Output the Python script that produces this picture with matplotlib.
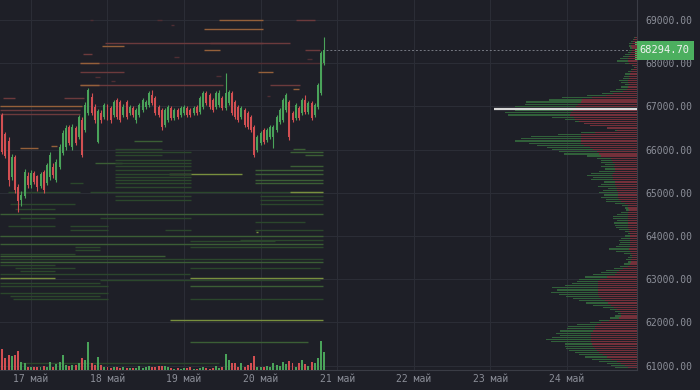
import matplotlib
matplotlib.use("Agg")
import matplotlib.pyplot as plt
import numpy as np

# hourly candles, hour 0 = 17 May 00:00
hours = np.arange(-9, 93)
opens = [66800, 66350, 66200, 65370, 65830, 65130, 64830, 64930, 65400, 65180,
         65460, 65380, 65150, 65480, 65230, 65370, 65600, 65300, 65600, 65920,
         66060, 66520, 66060, 66500, 66290, 66690, 66450, 66850, 67220, 66990,
         66180, 66850, 66750, 66990, 66960, 66800, 67150, 67100, 66800, 67100,
         66850, 66960, 66690, 66800, 66920, 66990, 67030, 67260, 67200, 66990,
         66920, 66570, 66690, 66960, 66730, 66920, 66800, 66850, 66960, 66920,
         66850, 66990, 66870, 66990, 67310, 67260, 67150, 66990, 67030, 67200,
         66960, 67080, 67310, 67100, 66990, 66750, 66920, 66850, 66750, 66520,
         65990, 66150, 66450, 66220, 66290, 66300, 66450, 66640, 66690, 66920,
         67100, 66850, 66730, 66960, 66850, 67150, 66870, 67080, 66800, 66990,
         67310, 68000]
closes = [65950, 65850, 65300, 65830, 65070, 64800, 64950, 65480, 65180, 65460,
          65250, 65130, 65440, 65070, 65640, 65880, 65410, 65710, 66060, 66380,
          66500, 66150, 66520, 66150, 66750, 65880, 67030, 67380, 66850, 66690,
          66900, 66690, 67030, 66730, 66690, 67100, 66750, 66690, 66990, 66750,
          66990, 66800, 66920, 67030, 67150, 67100, 67310, 67080, 66850, 66800,
          66520, 66920, 66990, 66730, 66920, 66750, 66960, 66990, 66800, 66800,
          66960, 66850, 67200, 67310, 67080, 66990, 66920, 67310, 67310, 66960,
          67310, 67330, 66850, 66750, 66690, 66960, 66570, 66520, 66450, 65880,
          66290, 66380, 66180, 66450, 66520, 66520, 66750, 66920, 67150, 67260,
          66290, 66690, 67030, 66730, 67150, 66870, 67080, 66730, 67030, 67490,
          68240, 68294.7]
highs = [66850, 66400, 66300, 65900, 65880, 65200, 65050, 65550, 65480, 65520,
         65500, 65420, 65480, 65520, 65700, 65950, 65680, 65780, 66120, 66450,
         66560, 66580, 66600, 66550, 66800, 66750, 67100, 67430, 67300, 67050,
         66950, 66920, 67080, 67050, 67000, 67150, 67200, 67150, 67050, 67150,
         67030, 67000, 66960, 67080, 67200, 67150, 67360, 67380, 67240, 67030,
         66960, 66960, 67030, 67000, 66960, 66960, 67000, 67030, 67000, 66960,
         67000, 67030, 67240, 67360, 67350, 67300, 67200, 67350, 67380, 67250,
         67770, 67380, 67360, 67150, 67030, 67000, 66960, 66900, 66800, 66560,
         66340, 66430, 66500, 66500, 66570, 66560, 66800, 66960, 67200, 67310,
         67150, 66900, 67080, 67000, 67200, 67260, 67130, 67130, 67080, 67540,
         68290, 68610]
lows = [65900, 65800, 65150, 65300, 65000, 64560, 64700, 64880, 65100, 65120,
        65200, 65050, 65100, 65000, 65180, 65300, 65350, 65250, 65550, 65880,
        66000, 66100, 66000, 66100, 66250, 65820, 66400, 66800, 66800, 66620,
        66150, 66620, 66700, 66680, 66620, 66750, 66700, 66640, 66750, 66700,
        66800, 66750, 66620, 66760, 66880, 66950, 66990, 67030, 66800, 66750,
        66450, 66520, 66640, 66690, 66690, 66700, 66760, 66800, 66760, 66750,
        66800, 66800, 66830, 66950, 67030, 66950, 66880, 66950, 66990, 66920,
        66920, 67030, 66800, 66700, 66640, 66700, 66520, 66480, 66400, 65830,
        65940, 66100, 66130, 66180, 66250, 66040, 66400, 66600, 66640, 66880,
        66220, 66640, 66690, 66690, 66800, 66830, 66830, 66690, 66760, 66950,
        67260, 67950]
volumes = [21, 12, 15, 14, 15, 19, 8, 7, 3, 3,
           3, 3, 3, 4, 3, 8, 3, 6, 8, 15,
           5, 4, 5, 5, 7, 12, 10, 28, 7, 5,
           13, 5, 3, 3, 2, 3, 3, 2, 3, 2,
           2, 2, 2, 4, 2, 3, 4, 3, 3, 4,
           4, 4, 3, 2, 1, 2, 1, 2, 2, 3,
           1, 1, 2, 3, 2, 1, 2, 4, 2, 3,
           16, 10, 7, 7, 3, 7, 3, 5, 7, 14,
           3, 3, 3, 4, 3, 7, 5, 4, 8, 6,
           9, 7, 3, 7, 10, 6, 4, 8, 7, 12,
           29, 18]
last_price = 68294.70

# order book levels: price, start hour, end hour, side, strength
ob_price = [69000, 69000, 69000, 69000, 68880, 68790, 68470, 68470, 68400, 68300,
            68300, 68210, 68000, 68000, 67800, 67800, 67500, 67500, 67500, 67400,
            67190, 67190, 67010, 66920, 66820, 66040, 66080, 67680, 67590, 68140,
            67700, 67250, 68100,
            66200, 66010, 66010, 65940, 65940, 65870, 65870, 65760, 65690, 65690,
            65620, 65620, 65530, 65530, 65440, 65440, 65440, 65370, 65300, 65300,
            65230, 65230, 65230, 65130, 65020, 65020, 65020, 64930, 64930, 64830,
            64830, 64740, 64740, 64620, 64510, 64420, 64420, 64320, 64230, 64230,
            64140, 64140, 64140, 64090, 64000, 63910, 63880, 63810, 63740, 63740,
            63680, 63580, 63540, 63470, 63400, 63330, 63260, 63260, 63190, 63120,
            63030, 63030, 62980, 62910, 62840, 62840, 62680, 62610, 62540, 62540,
            62050, 61550, 61060]
ob_start = [59, 18.5, 39.5, 83, 44, 54.2, 23.2, 56, 22.3, 54.2,
            85.9, 16.3, 15.4, 15.4, 15.4, 71.2, 15.4, 15.4, 74.9, 82.1,
            -8.8, 10.3, -9.7, -9.7, -9.7, -3.4, 6.3, 20, 25, 45,
            58, 74, 86.5,
            32.3, 26.3, 82.1, 26.3, 81.2, 26.3, 85.9, 26.3, 20, 26.3,
            26.3, 81.2, 26.3, 70.2, 43.3, 26.3, 70.2, 26.3, 26.3, 70.2,
            12.2, 26.3, 70.2, 26.3, -7.2, 18.5, 81.2, 26.3, 71.8, 26.3,
            71.8, -6.6, 71.8, -5, -9.7, -3.4, 21.6, 70.2, -7.2, 12.2,
            12.2, 42, 70.2, 70.5, -9.7, 65.5, 49.8, -9.7, 13.8, 49.8,
            13.8, -9.7, -9.7, -9.7, -9.7, -9.7, -5, 49.8, -3.4, -9.7,
            -9.7, 49.8, 21.6, -9.7, -9.7, 49.8, -9.7, -6.6, -5.6, 49.8,
            43.6, 49.8, -3.4]
ob_end = [72.7, 19.5, 41, 89, 45, 72.7, 81.2, 72.7, 29.2, 59.2,
          90.6, 19.1, 91.5, 21.3, 29.2, 75.9, 60.2, 21.3, 84.3, 84,
          -5, 16.6, 16, 15.4, 15.4, 2.2, 8.2, 21.5, 26.5, 46.5,
          59.5, 75, 88,
          41, 41, 85.9, 50.2, 91.5, 41, 91.5, 50.2, 28.5, 50.2,
          50.2, 91.5, 50.2, 91.5, 66.1, 50.2, 91.5, 50.2, 50.2, 91.5,
          16.3, 50.2, 91.5, 50.2, 15.4, 91.5, 91.5, 50.2, 91.5, 50.2,
          91.5, 13.8, 91.5, 7.5, 91.5, 7.5, 50.2, 85.9, 7.5, 24.1,
          24.1, 50.2, 91.5, 71.2, 91.5, 91.5, 76.5, 91.5, 21.6, 91.5,
          21.6, 13.8, 42, 91.5, 91.5, 7.5, 13.8, 90.6, 7.5, 49.8,
          7.5, 91.5, 90.6, 21.6, 24.1, 91.5, 24.1, 21.6, 24.1, 91.5,
          91.5, 86.8, 59]
ob_side = ["a"] * 33 + ["b"] * 80
ob_level = [3, 1, 1, 2, 1, 3, 2, 2, 3, 3,
            2, 2, 1, 3, 2, 3, 2, 3, 2, 3,
            2, 2, 3, 2, 2, 3, 3, 1, 1, 1,
            1, 1, 1,
            2, 1, 2, 1, 2, 1, 2, 1, 2, 1,
            1, 2, 1, 2, 3, 1, 2, 1, 1, 2,
            1, 1, 2, 1, 1, 1, 3, 1, 1, 1,
            1, 1, 1, 1, 2, 1, 1, 1, 1, 1,
            1, 1, 1, 3, 2, 1, 1, 2, 1, 1,
            1, 1, 2, 1, 2, 1, 1, 1, 1, 1,
            3, 3, 1, 1, 1, 2, 1, 1, 1, 1,
            3, 2, 1]

# volume profile, 50-point bins from 68600 downwards
profile_top = 68600
profile_step = 50
profile_total = [3, 4, 6, 8, 8, 7, 8, 9, 12, 14, 17, 20, 12, 5, 3, 6, 9, 12, 13, 14,
                 18, 16, 12, 16, 21, 27, 35, 50, 75, 88, 111, 112, 122, 136, 122, 132,
                 129, 85, 72, 62, 51, 39, 30, 22, 56, 79, 106, 116, 122, 108, 100, 90,
                 85, 78, 73, 50, 40, 36, 36, 32, 36, 32, 38, 46, 50, 44, 46, 33, 36, 39,
                 29, 34, 38, 33, 36, 31, 31, 22, 15, 12, 11, 16, 20, 24, 24, 20, 23, 22,
                 21, 18, 12, 9, 12, 16, 18, 17, 18, 21, 28, 21, 13, 7, 9, 11, 9, 13, 17,
                 23, 31, 36, 44, 52, 58, 60, 65, 72, 85, 80, 86, 78, 71, 64, 58, 51, 44,
                 34, 27, 22, 19, 22, 27, 38, 47, 60, 69, 70, 77, 81, 77, 85, 91, 86, 72,
                 72, 71, 68, 62, 58, 52, 45, 38, 30, 26, 22]
profile_sell = [2, 3, 4, 5, 6, 5, 5, 6, 7, 8, 9, 9, 8, 4, 2, 4, 6, 7, 8, 8,
                9, 9, 8, 9, 10, 14, 24, 31, 45, 55, 56, 59, 61, 62, 64, 66,
                67, 63, 62, 58, 53, 47, 30, 20, 42, 56, 56, 56, 56, 56, 53, 47,
                44, 40, 38, 36, 26, 25, 24, 22, 23, 22, 22, 24, 25, 24, 24, 22, 22, 21,
                20, 20, 19, 19, 19, 18, 16, 12, 9, 9, 8, 9, 9, 9, 9, 9, 9, 9,
                9, 8, 8, 7, 7, 7, 7, 7, 7, 7, 8, 7, 6, 5, 5, 6, 6, 7, 9,
                14, 18, 20, 22, 30, 37, 39, 39, 39, 39, 39, 39, 39, 38, 36, 32, 29, 26,
                23, 20, 17, 16, 16, 18, 28, 36, 40, 42, 42, 44, 46, 46, 46, 46, 46, 45,
                44, 42, 40, 38, 34, 30, 26, 20, 16, 12, 9]

day_ticks = [0, 24, 48, 72, 96, 120, 144, 168]
day_labels = ["17 май", "18 май", "19 май", "20 май", "21 май", "22 май", "23 май", "24 май"]
price_ticks = [61000, 62000, 63000, 64000, 65000, 66000, 67000, 68000, 69000]

bg = "#1e1f27"
grid_c = "#2b2d36"
txt_c = "#8b8e98"
up_c = "#4aa35a"
down_c = "#d24f52"
ob_colors = {"a": {1: "#4e2e33", 2: "#6c3a3c", 3: "#94603a"},
             "b": {1: "#2b472c", 2: "#3b5e35", 3: "#788f3e"}}

fig = plt.figure(figsize=(7, 3.9), dpi=100, facecolor=bg)
ax = fig.add_axes([0, 20 / 390, 637 / 700, 370 / 390])
ax.set_facecolor(bg)

# order book lines
for p, t0, t1, s, lv in zip(ob_price, ob_start, ob_end, ob_side, ob_level):
    ax.hlines(p, t0, t1, color=ob_colors[s][lv], lw=1.0, zorder=2)

# candles
o = np.array(opens)
c = np.array(closes)
col = [up_c if cc >= oo else down_c for oo, cc in zip(o, c)]
ax.vlines(hours, lows, highs, color=col, lw=0.8, zorder=3)
ax.bar(hours, np.maximum(np.abs(c - o), 15), bottom=np.minimum(o, c),
       width=0.62, color=col, zorder=4, linewidth=0)

ax.hlines(last_price, hours[-1] + 0.5, 190, color="#777a83", lw=0.7,
          linestyles=(0, (2, 2)), zorder=5)

ax.set_xlim(-9.7, 190)
ax.set_ylim(60898, 69463)
ax.set_xticks(day_ticks)
ax.set_yticks(price_ticks)
ax.grid(True, color=grid_c, lw=0.8)
ax.set_axisbelow(True)

# volume profile on the right
pax = ax.twiny()
pax.set_xlim(637, 0)
lv_prices = profile_top - profile_step * np.arange(len(profile_total))
pax.barh(lv_prices, profile_total, height=profile_step * 0.55, color="#31603a", linewidth=0)
pax.barh(lv_prices, profile_sell, height=profile_step * 0.55, color="#73303a", linewidth=0)
poc = lv_prices[int(np.argmax(profile_total))]
pax.hlines(poc, 0, max(profile_total) * 1.05, color="#d8d8d8", lw=1.6)
pax.set_xticks([])
for sp in pax.spines.values():
    sp.set_visible(False)

# volume bars
vax = ax.twinx()
vax.bar(hours, volumes, width=0.62, color=col, linewidth=0)
vax.set_ylim(0, 370)
vax.set_yticks([])
for sp in vax.spines.values():
    sp.set_visible(False)

ax.set_xticklabels(day_labels)
ax.set_yticklabels(["%.2f" % v for v in price_ticks])
ax.tick_params(axis="y", left=False, right=True, labelleft=False, labelright=True,
               length=0, pad=6, labelsize=7, labelcolor=txt_c)
ax.tick_params(axis="x", length=0, pad=3, labelsize=7, labelcolor=txt_c)
for lab in ax.get_xticklabels() + ax.get_yticklabels():
    lab.set_family("DejaVu Sans Mono")
for k in ["top", "left"]:
    ax.spines[k].set_visible(False)
ax.spines["right"].set_color("#3a3c45")
ax.spines["bottom"].set_color("#3a3c45")

ax.text(1.004, last_price, "%.2f" % last_price, transform=ax.get_yaxis_transform(),
        ha="left", va="center", fontsize=7.5, family="DejaVu Sans Mono", color="#f2f2f2",
        bbox=dict(boxstyle="square,pad=0.4", fc="#4caf5f", ec="none"), zorder=10)

fig.savefig("out.png", dpi=100, facecolor=bg)
